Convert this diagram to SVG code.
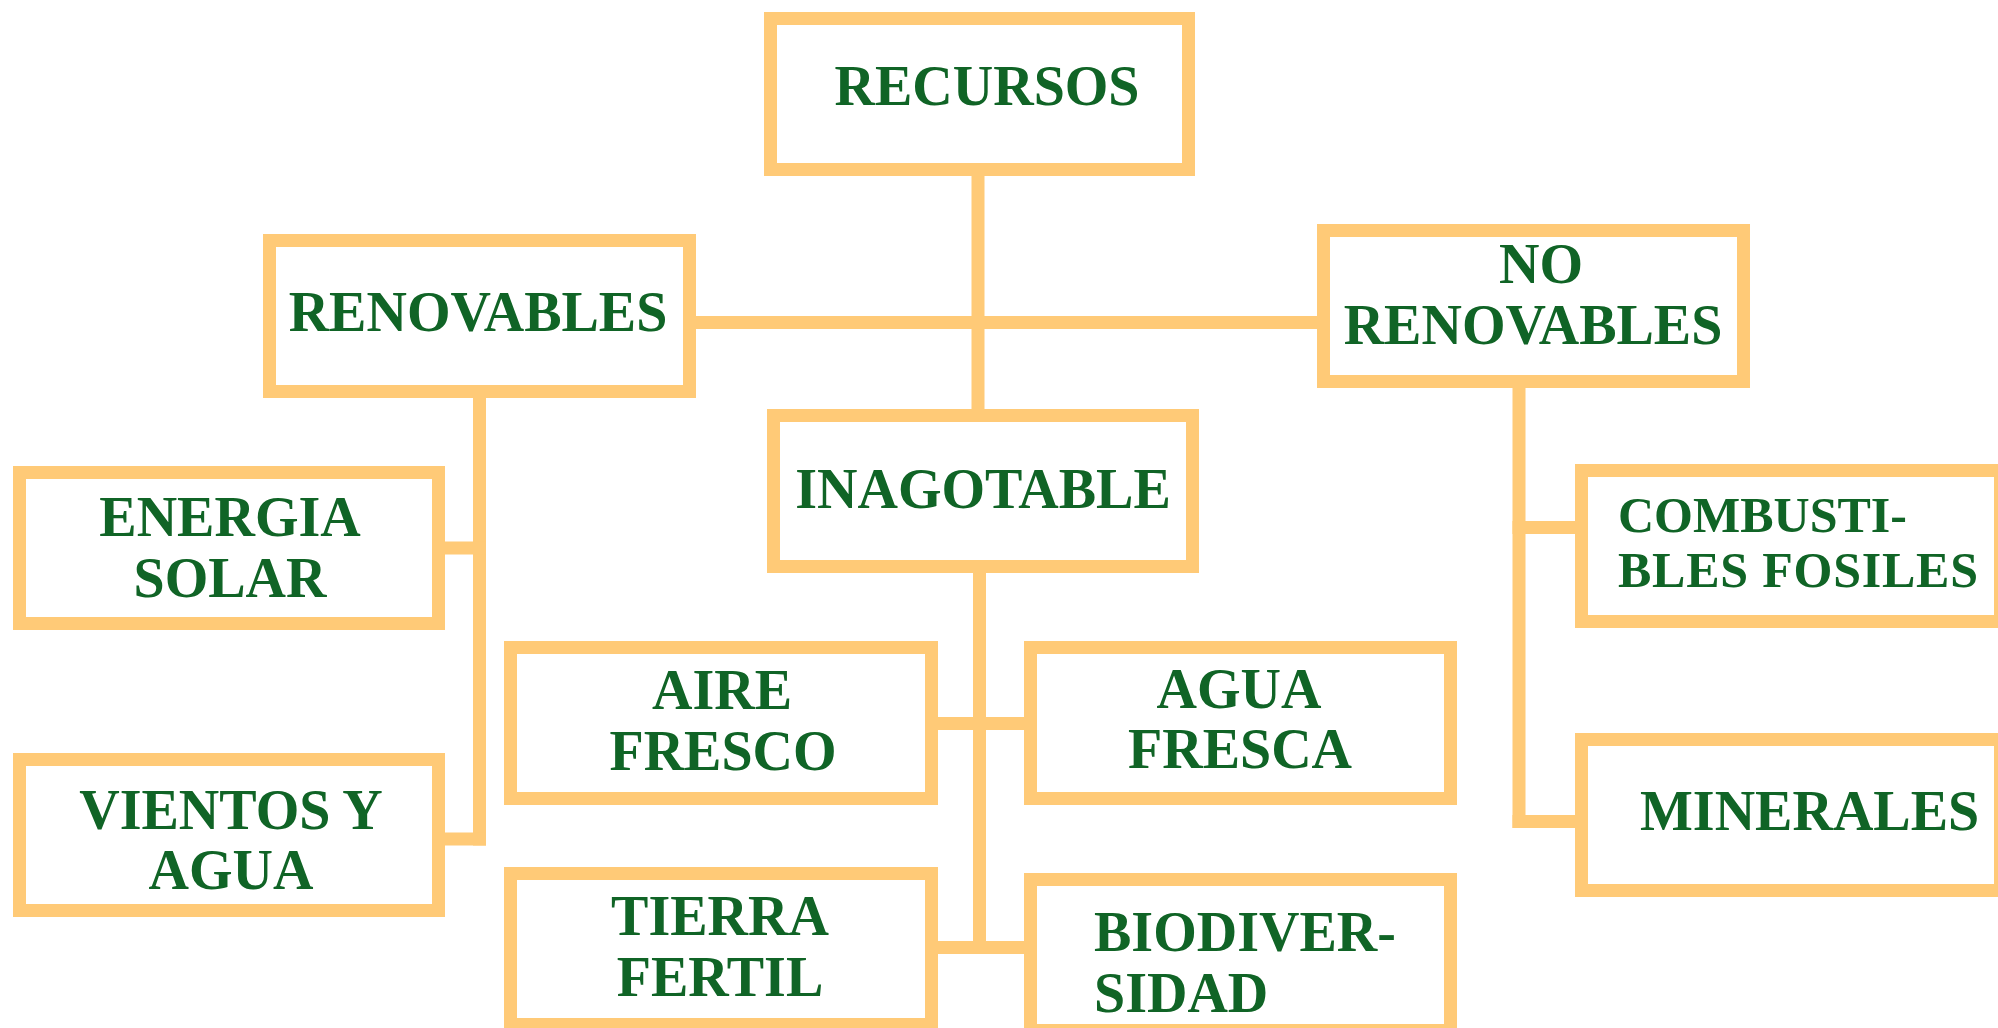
<svg xmlns="http://www.w3.org/2000/svg" width="1998" height="1028" viewBox="0 0 1998 1028">
<style>
.box{fill:#FFFFFF;stroke:#FFCA77;stroke-width:13}
.con{stroke:#FFCA77;stroke-width:13;fill:none}
.t{font-family:"Liberation Serif","Times New Roman",serif;font-weight:bold;font-size:56px;fill:#106426}
.m{text-anchor:middle}
.s{font-size:50px}
</style>
<rect width="1998" height="1028" fill="#FFFFFF"/>
<g id="connectors">
<line class="con" x1="978" y1="170" x2="978" y2="416"/>
<line class="con" x1="690" y1="322.5" x2="1324" y2="322.5"/>
<line class="con" x1="479.5" y1="392" x2="479.5" y2="845.5"/>
<line class="con" x1="439" y1="548" x2="486" y2="548"/>
<line class="con" x1="439" y1="839" x2="486" y2="839"/>
<line class="con" x1="979.5" y1="567" x2="979.5" y2="954"/>
<line class="con" x1="932" y1="723.5" x2="1031" y2="723.5"/>
<line class="con" x1="932" y1="947.5" x2="1031" y2="947.5"/>
<line class="con" x1="1519" y1="382" x2="1519" y2="828"/>
<line class="con" x1="1512.5" y1="527.5" x2="1582" y2="527.5"/>
<line class="con" x1="1512.5" y1="821.5" x2="1582" y2="821.5"/>
</g>
<g id="recursos">
<rect class="box" x="770.5" y="18.5" width="418" height="151"/>
<text class="t m" x="987" y="105">RECURSOS</text>
</g>
<g id="renovables">
<rect class="box" x="269.5" y="240.5" width="420" height="151"/>
<text class="t m" x="478" y="331">RENOVABLES</text>
</g>
<g id="no-renovables">
<rect class="box" x="1323.5" y="230.5" width="420" height="151"/>
<text class="t m" x="1541" y="283">NO</text>
<text class="t m" x="1533" y="344">RENOVABLES</text>
</g>
<g id="inagotable">
<rect class="box" x="773.5" y="415.5" width="419" height="151"/>
<text class="t m" x="983" y="508">INAGOTABLE</text>
</g>
<g id="energia-solar">
<rect class="box" x="19.5" y="472.5" width="419" height="151"/>
<text class="t m" x="230" y="536">ENERGIA</text>
<text class="t m" x="230" y="597">SOLAR</text>
</g>
<g id="vientos-agua">
<rect class="box" x="19.5" y="759.5" width="419" height="151"/>
<text class="t m" x="231" y="829">VIENTOS Y</text>
<text class="t m" x="231" y="889">AGUA</text>
</g>
<g id="aire-fresco">
<rect class="box" x="510.5" y="647.5" width="421" height="151"/>
<text class="t m" x="722" y="709">AIRE</text>
<text class="t m" x="723" y="770">FRESCO</text>
</g>
<g id="agua-fresca">
<rect class="box" x="1030.5" y="647.5" width="420" height="151"/>
<text class="t m" x="1239" y="708">AGUA</text>
<text class="t m" x="1240" y="768">FRESCA</text>
</g>
<g id="tierra-fertil">
<rect class="box" x="510.5" y="873.5" width="421" height="151"/>
<text class="t m" x="720" y="935">TIERRA</text>
<text class="t m" x="720" y="996">FERTIL</text>
</g>
<g id="biodiversidad">
<rect class="box" x="1030.5" y="879.5" width="420" height="151"/>
<text class="t" x="1094" y="951">BIODIVER-</text>
<text class="t" x="1094" y="1012">SIDAD</text>
</g>
<g id="combustibles-fosiles">
<rect class="box" x="1581.5" y="470.5" width="419" height="151"/>
<text class="t s" x="1618" y="532">COMBUSTI-</text>
<text class="t s" x="1618" y="587" textLength="360">BLES FOSILES</text>
</g>
<g id="minerales">
<rect class="box" x="1581.5" y="739.5" width="419" height="151"/>
<text class="t" x="1640" y="830">MINERALES</text>
</g>
</svg>
